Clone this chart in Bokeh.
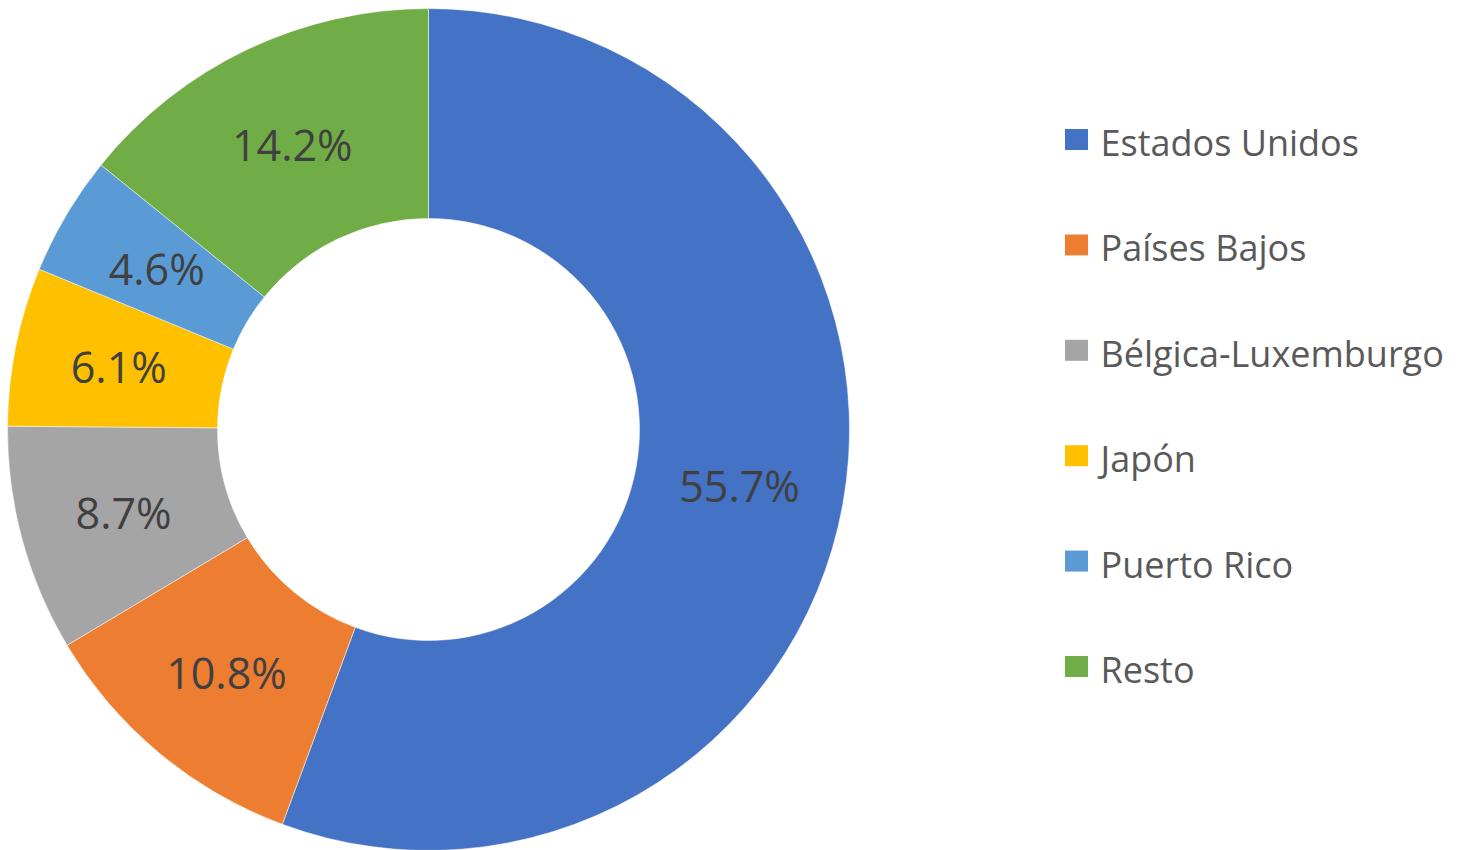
import math
from bokeh.plotting import figure
from bokeh.models import ColumnDataSource, Range1d
from bokeh.core.properties import value
from bokeh.embed import file_html
from bokeh.resources import INLINE

categories = ["Estados Unidos", "Países Bajos", "Bélgica-Luxemburgo", "Japón", "Puerto Rico", "Resto"]
shares = [55.7, 10.8, 8.7, 6.1, 4.6, 14.2]
labels = ["55.7%", "10.8%", "8.7%", "6.1%", "4.6%", "14.2%"]
colors = ["#4472C4", "#ED7D31", "#A5A5A5", "#FFC000", "#5B9BD5", "#70AD47"]

W, H = 1460, 850
CX, CY = 428, H - 429
R_OUT, R_IN = 421, 211

total = sum(shares)
starts, ends, lx, ly = [], [], [], []
cum = 0.0
for s in shares:
    a0 = math.pi / 2 - 2 * math.pi * cum / total
    cum += s
    a1 = math.pi / 2 - 2 * math.pi * cum / total
    starts.append(a0)
    ends.append(a1)
    mid = (a0 + a1) / 2
    rm = (R_OUT + R_IN) / 2
    lx.append(CX + rm * math.cos(mid))
    ly.append(CY + rm * math.sin(mid))

src = ColumnDataSource(dict(cat=categories, start=starts, end=ends, color=colors,
                            lx=lx, ly=ly, label=labels))

p = figure(width=W, height=H, output_backend="svg", toolbar_location=None,
           x_range=Range1d(0, W), y_range=Range1d(0, H), min_border=0,
           outline_line_color=None, background_fill_color="white", border_fill_color="white")
p.axis.visible = False
p.grid.visible = False

p.annular_wedge(x=CX, y=CY, inner_radius=R_IN, outer_radius=R_OUT,
                start_angle="start", end_angle="end", direction="clock",
                fill_color="color", line_color="white", line_width=0.5, source=src)

p.text(x="lx", y="ly", text="label", source=src, text_align="center", text_baseline="middle",
       text_font=value("Open Sans"), text_font_size="43px", text_color="#404040")

# legend
leg_y = [H - (139 + 105.4 * i) for i in range(len(categories))]
leg_src = ColumnDataSource(dict(y=leg_y, ty=[y - 3 for y in leg_y], cat=categories, color=colors))
p.rect(x=1076, y="y", width=23, height=21, fill_color="color", line_color=None, source=leg_src)
p.text(x=1100, y="ty", text="cat", source=leg_src, text_align="left", text_baseline="alphabetic",
       text_font=value("Open Sans"), text_font_size="36px", text_color="#595959")

open("out.html", "w").write(file_html(p, INLINE))
